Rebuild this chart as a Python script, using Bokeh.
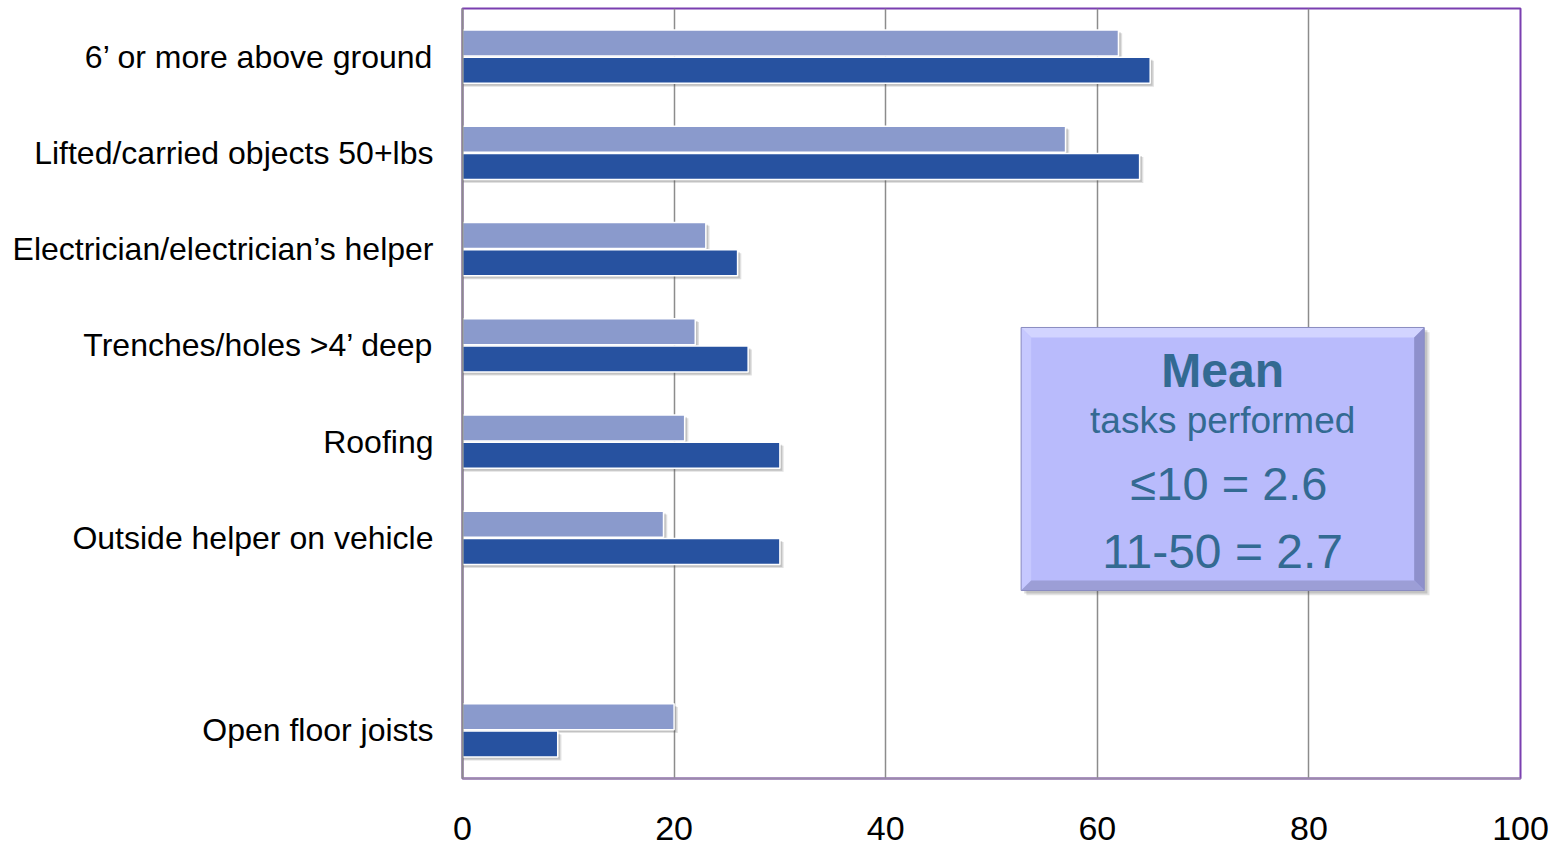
from bokeh.plotting import figure
from bokeh.models import Range1d, FixedTicker
from bokeh.core.properties import value
from bokeh.embed import file_html
from bokeh.resources import INLINE

# Task categories, top to bottom (blank slot separates the last one)
categories = [
    "6\u2019 or more above ground",
    "Lifted/carried objects 50+lbs",
    "Electrician/electrician\u2019s helper",
    "Trenches/holes >4\u2019 deep",
    "Roofing",
    "Outside helper on vehicle",
    "",
    "Open floor joists",
]
# Percent performing each task, by company size
small_firms = [62, 57, 23, 22, 21, 19, None, 20]   # light bars
mid_firms = [65, 64, 26, 27, 30, 30, None, 9]      # dark bars
x_ticks = [0, 20, 40, 60, 80, 100]

mean_lines = ["Mean", "tasks performed", "\u226410 = 2.6", "11-50 = 2.7"]

LIGHT = "#8A9ACC"
DARK = "#2752A0"
TEXT_BLUE = "#336A92"

idx = [i for i, v in enumerate(small_firms) if v is not None]
ys = list(range(len(categories)))

p = figure(
    width=1566, height=851,
    x_range=Range1d(0, 100),
    y_range=Range1d(len(categories) - 0.5, -0.5),
    output_backend="svg", toolbar_location=None,
    min_border_left=462, min_border_right=46,
    min_border_top=8, min_border_bottom=73,
    background_fill_color="white", border_fill_color="white",
)
p.outline_line_color = "#7A3FB0"
p.outline_line_width = 2

# grid: vertical lines only
p.xgrid.ticker = FixedTicker(ticks=[20, 40, 60, 80])
p.xgrid.grid_line_color = "#8C8C8C"
p.xgrid.grid_line_width = 1.5
p.ygrid.grid_line_color = None

# x axis
p.xaxis.ticker = FixedTicker(ticks=x_ticks)
p.xaxis.axis_line_color = "#9A8AAA"
p.xaxis.axis_line_width = 2
p.xaxis.major_tick_line_color = None
p.xaxis.minor_tick_line_color = None
p.xaxis.major_label_text_font = "Liberation Sans"
p.xaxis.major_label_text_font_size = "34px"
p.xaxis.major_label_text_color = "black"
p.xaxis.major_label_standoff = 32

# y axis with category labels
p.yaxis.ticker = FixedTicker(ticks=ys)
p.yaxis.major_label_overrides = {i: c for i, c in enumerate(categories)}
p.yaxis.axis_line_color = "#8C8C8C"
p.yaxis.axis_line_width = 2
p.yaxis.major_tick_line_color = None
p.yaxis.minor_tick_line_color = None
p.yaxis.major_label_text_font = "Liberation Sans"
p.yaxis.major_label_text_font_size = "32px"
p.yaxis.major_label_text_color = "black"
p.yaxis.major_label_standoff = 23

bar_h = 0.27
off = 0.142

# soft drop shadows behind the bars
for dy, dx, a in [(0.035, 0.35, 0.18), (0.025, 0.22, 0.22)]:
    p.hbar(y=[i - off + dy for i in idx], right=[small_firms[i] + dx for i in idx],
           left=0, height=bar_h, fill_color="#555555", fill_alpha=a, line_color=None)
    p.hbar(y=[i + off + dy for i in idx], right=[mid_firms[i] + dx for i in idx],
           left=0, height=bar_h, fill_color="#555555", fill_alpha=a, line_color=None)

p.hbar(y=[i - off for i in idx], right=[small_firms[i] for i in idx], left=0,
       height=bar_h, fill_color=LIGHT, line_color="white", line_width=1.5)
p.hbar(y=[i + off for i in idx], right=[mid_firms[i] for i in idx], left=0,
       height=bar_h, fill_color=DARK, line_color="white", line_width=1.5)

# callout box with bevelled edge
bx0, bx1 = 52.8, 90.9
by0, by1 = 2.814, 5.547
bw_x, bw_y = 0.95, 0.105

# box shadow
for s, a in [(0.5, 0.15), (0.3, 0.2)]:
    p.quad(left=bx0 + s, right=bx1 + s, top=by0 + s * 0.1, bottom=by1 + s * 0.1,
           fill_color="#444444", fill_alpha=a, line_color=None)

p.quad(left=bx0, right=bx1, top=by0, bottom=by1, fill_color="#B9BBFC", line_color=None)
p.patches(
    xs=[[bx0, bx1, bx1 - bw_x, bx0 + bw_x],
        [bx0, bx0 + bw_x, bx0 + bw_x, bx0],
        [bx1, bx1, bx1 - bw_x, bx1 - bw_x],
        [bx0, bx0 + bw_x, bx1 - bw_x, bx1]],
    ys=[[by0, by0, by0 + bw_y, by0 + bw_y],
        [by0, by0 + bw_y, by1 - bw_y, by1],
        [by0, by1, by1 - bw_y, by0 + bw_y],
        [by1, by1 - bw_y, by1 - bw_y, by1]],
    fill_color=["#D2D4FF", "#C6C8FF", "#8E90CC", "#9C9ED6"],
    line_color=None,
)
p.quad(left=bx0, right=bx1, top=by0, bottom=by1, fill_color=None,
       line_color="#8A8CC0", line_width=1)

cx = (bx0 + bx1) / 2
p.text(x=[cx], y=[3.261], text=[mean_lines[0]], text_align="center", text_baseline="middle",
       text_font=value("Liberation Sans"), text_font_style="bold",
       text_font_size="48px", text_color=TEXT_BLUE)
p.text(x=[cx], y=[3.78], text=[mean_lines[1]], text_align="center", text_baseline="middle",
       text_font=value("Liberation Sans"), text_font_size="37px", text_color=TEXT_BLUE)
p.text(x=[cx + 0.6], y=[4.435], text=[mean_lines[2]], text_align="center", text_baseline="middle",
       text_font=value("Liberation Sans"), text_font_size="47px", text_color=TEXT_BLUE)
p.text(x=[cx], y=[5.14], text=[mean_lines[3]], text_align="center", text_baseline="middle",
       text_font=value("Liberation Sans"), text_font_size="48px", text_color=TEXT_BLUE)

open("out.html", "w").write(file_html(p, INLINE))
